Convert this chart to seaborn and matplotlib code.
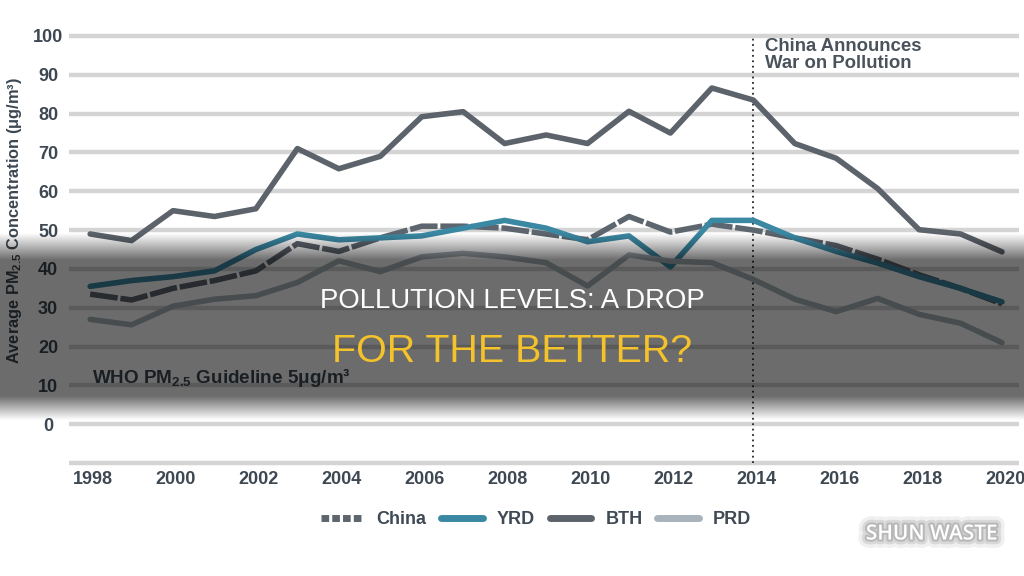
import numpy as np
import pandas as pd
import matplotlib
matplotlib.use('Agg')
import matplotlib.pyplot as plt
import matplotlib.transforms as mtransforms
import matplotlib.patheffects as pe
from matplotlib.lines import Line2D
import seaborn as sns

# values (annual mean PM2.5, ug/m3)
years = list(range(1998, 2021))
china = [33.5, 32, 35, 37, 39.5, 46.5, 44.5, 48, 51, 51, 50.5, 49, 47.5,
         53.5, 49.5, 51.5, 50, 48, 46, 42.5, 38.5, 35, 31]
yrd = [35.5, 37, 38, 39.5, 45, 49, 47.5, 48, 48.5, 50.5, 52.5, 50.5, 47,
       48.5, 40.5, 52.5, 52.5, 48, 44.5, 41.5, 38, 35, 31.5]
bth = [49, 47.3, 55, 53.5, 55.5, 71, 65.8, 69, 79.2, 80.5, 72.3, 74.5, 72.3,
       80.6, 75, 86.6, 83.5, 72.3, 68.5, 60.7, 50.1, 49, 44.4]
prd = [27, 25.6, 30.4, 32.2, 33.1, 36.5, 42.1, 39.3, 43.1, 44, 43.1, 41.6,
       35.6, 43.6, 42, 41.6, 37.3, 32.2, 29, 32.4, 28.3, 26, 21]
regions = ['China', 'YRD', 'BTH', 'PRD']
y_ticks = list(range(0, 101, 10))
x_ticks = list(range(1998, 2021, 2))
policy_year = 2014

colors = {'China': '#5d656e', 'YRD': '#3b88a3', 'BTH': '#5c636b', 'PRD': '#a9b3bc'}
text_col = '#3d4853'
grid_col = '#d4d4d4'

sns.set_style('white')
plt.rcParams['font.family'] = ['Liberation Sans', 'DejaVu Sans']
plt.rcParams['mathtext.fontset'] = 'custom'
plt.rcParams['mathtext.rm'] = 'Liberation Sans:bold'
plt.rcParams['mathtext.default'] = 'rm'

df = pd.DataFrame({
    'year': years * len(regions),
    'value': china + yrd + bth + prd,
    'region': np.repeat(regions, len(years)),
})

fig = plt.figure(figsize=(10.24, 5.76), dpi=100, facecolor='none')
ax = fig.add_axes([69 / 1024, 1 - 466.9 / 576, 950 / 1024, 434.8 / 576])
ax.set_facecolor('none')

sns.lineplot(data=df, x='year', y='value', hue='region', style='region',
             hue_order=regions, style_order=regions, palette=colors,
             dashes={'China': (5, 0.5), 'YRD': '', 'BTH': '', 'PRD': ''},
             lw=4, legend=False, sort=False, ax=ax, zorder=3)

ax.set_xlim(1997.49, 2020.41)
ax.set_ylim(-11, 101)
ax.set_yticks(y_ticks)
ax.set_xticks(x_ticks)
ax.yaxis.grid(True, color=grid_col, lw=3.2)
ax.xaxis.grid(False)
ax.axhline(-10, color=grid_col, lw=3.2, zorder=1)
ax.set_axisbelow(True)
ax.vlines(policy_year, -10, 100, colors='#262626', linestyles=(0, (1, 2)),
          lw=1.3, zorder=2)
for s in ax.spines.values():
    s.set_visible(False)
ax.set_xlabel('')
ax.set_ylabel('')
ax.tick_params(length=0, labelsize=13, labelcolor=text_col)
ax.tick_params(axis='x', pad=3)
ax.tick_params(axis='y', pad=15)
shift = mtransforms.ScaledTranslation(3 / 100, 0, fig.dpi_scale_trans)
for lbl in ax.get_xticklabels():
    lbl.set_fontweight('bold')
    lbl.set_transform(lbl.get_transform() + shift)
for lbl in ax.get_yticklabels():
    lbl.set_fontweight('bold')
    lbl.set_horizontalalignment('center')

fig.text(15 / 1024, 1 - 220 / 576, r'Average PM$_{2.5}$ Concentration (μg/m³)',
         rotation=90, ha='center', va='center', fontsize=11.8,
         fontweight='bold', color=text_col)
fig.text(92 / 1024, 1 - 383 / 576, r'WHO PM$_{2.5}$ Guideline 5μg/m³',
         ha='left', va='baseline', fontsize=13.6, fontweight='bold', color=text_col)
fig.text(765 / 1024, 1 - 38 / 576, 'China Announces\nWar on Pollution',
         ha='left', va='top', fontsize=13.4, fontweight='bold', color='#4a535c',
         linespacing=1.0)

handles = [Line2D([], [], color=colors[r], lw=5,
                  dashes=(1.1, 0.45) if r == 'China' else (None, None))
           for r in regions]
fig.legend(handles, regions, loc='center', bbox_to_anchor=(536 / 1024, 1 - 520 / 576),
           ncol=4, frameon=False, handlelength=2.3, handletextpad=0.8,
           columnspacing=0.8, labelcolor='#3f4a56',
           prop={'family': 'Liberation Sans', 'weight': 'bold', 'size': 13})

# dark band behind the title
ov = fig.add_axes([0, 0, 1, 1], zorder=5)
ov.axis('off')
rows = np.arange(576) + 0.5
band = np.zeros((576, 1, 4))
band[:, 0, 3] = np.interp(rows, [233, 260, 396, 420], [0, 0.58, 0.58, 0])
ov.imshow(band, extent=[0, 1, 0, 1], aspect='auto', interpolation='bilinear')
ov.set_xlim(0, 1)
ov.set_ylim(0, 1)

fig.text(0.5, 1 - 308.5 / 576, 'POLLUTION LEVELS: A DROP', color='white',
         fontsize=19.8, ha='center', va='baseline', zorder=10)
fig.text(0.5, 1 - 362 / 576, 'FOR THE BETTER?', color='#f4c22b',
         fontsize=28.4, ha='center', va='baseline', zorder=10)
# soft glow so the white watermark stays readable
glow = [pe.Stroke(linewidth=12, foreground='black', alpha=0.06),
        pe.Stroke(linewidth=7, foreground='black', alpha=0.1),
        pe.Stroke(linewidth=3, foreground='black', alpha=0.15),
        pe.Normal()]
fig.text(932 / 1024, 1 - 534 / 576, 'SHUN WASTE', color='white',
         family='Open Sans', fontweight='semibold', fontsize=15,
         ha='center', va='center', zorder=10, path_effects=glow)

fig.canvas.draw()
buf = np.asarray(fig.canvas.buffer_rgba()).copy()
buf[buf[..., 3] == 0, :3] = 0
plt.imsave('out.png', buf)
